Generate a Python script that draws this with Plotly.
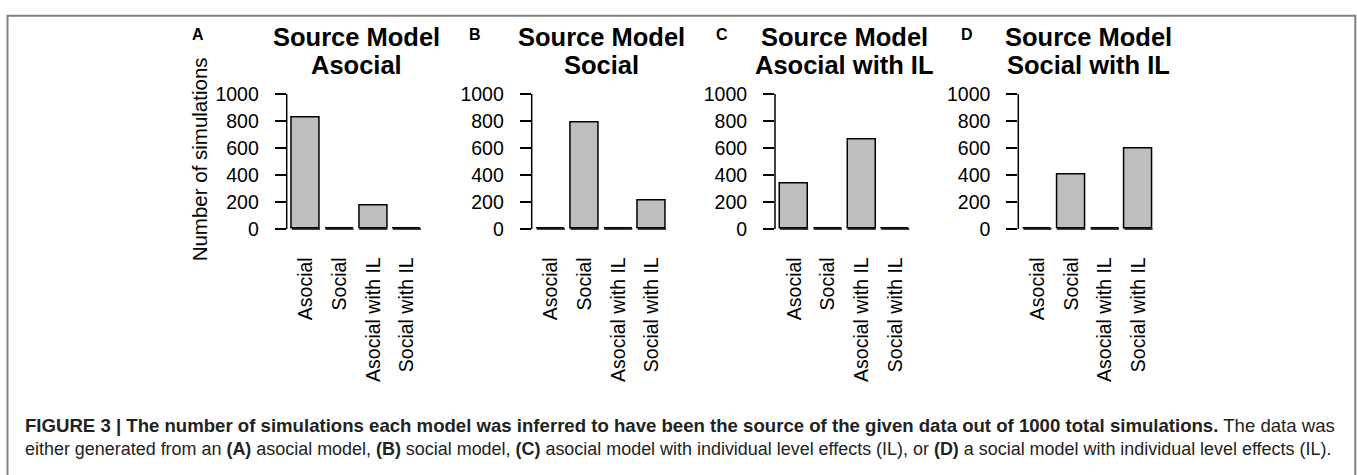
import plotly.graph_objects as go

# ---- data -------------------------------------------------------------
categories = ["Asocial", "Social", "Asocial with IL", "Social with IL"]
panel_letters = ["A", "B", "C", "D"]
panel_subtitles = ["Asocial", "Social", "Asocial with IL", "Social with IL"]
counts_a = [828, 0, 172, 0]
counts_b = [0, 788, 0, 212]
counts_c = [335, 0, 665, 0]
counts_d = [0, 402, 0, 598]
y_ticks = [0, 200, 400, 600, 800, 1000]

# ---- geometry ---------------------------------------------------------
W, H = 1357, 475
FONT = "Liberation Sans, Arial, Helvetica, sans-serif"
CAP_FONT = "Liberation Sans Narrow, Arial Narrow, Liberation Sans, Arial, sans-serif"
BAR_W = 1 / 1.2
BAR_FILL = "#bebebe"
LW = 1.5


def px_x(v):
    return v / W


def px_y(v):
    return 1 - v / H


panel_left = [286.7, 531.7, 775.0, 1018.3]
panel_width = 139.5
y_dom = [px_y(233.8), px_y(84.5)]

all_counts = [counts_a, counts_b, counts_c, counts_d]
xpos = list(range(len(categories)))

fig = go.Figure()
shapes = []
annotations = []

for k, counts in enumerate(all_counts):
    sfx = "" if k == 0 else str(k + 1)
    xa, ya = "x" + sfx, "y" + sfx

    fig.add_trace(go.Bar(
        x=xpos, y=counts, width=BAR_W,
        marker=dict(color=BAR_FILL, line=dict(color="black", width=LW)),
        xaxis=xa, yaxis=ya, showlegend=False, hoverinfo="skip",
    ))
    # bottom edge of every bar (zero-height bars appear as a flat line)
    ex, ey = [], []
    for i in xpos:
        ex += [i - BAR_W / 2, i + BAR_W / 2, None]
        ey += [0, 0, None]
    fig.add_trace(go.Scatter(
        x=ex, y=ey, mode="lines", line=dict(color="black", width=LW),
        xaxis=xa, yaxis=ya, showlegend=False, hoverinfo="skip",
    ))

    x0 = panel_left[k]
    fig.layout["xaxis" + sfx] = dict(
        domain=[px_x(x0), px_x(x0 + panel_width)], anchor=ya,
        range=[-0.57, 3.57], tickmode="array", tickvals=xpos, ticktext=categories,
        tickangle=-90, ticks="", showline=False, showgrid=False, zeroline=False,
        tickfont=dict(family=FONT, size=19.5, color="black"),
        ticklabelstandoff=18, fixedrange=True,
    )
    fig.layout["yaxis" + sfx] = dict(
        domain=y_dom, anchor=xa, range=[-40, 1040],
        tickmode="array", tickvals=y_ticks,
        ticks="outside", ticklen=11, tickwidth=LW, tickcolor="black",
        showline=False, showgrid=False, zeroline=False,
        tickfont=dict(family=FONT, size=19.5, color="black"),
        ticklabelstandoff=12, fixedrange=True,
    )
    # axis line spanning the tick range only
    shapes.append(dict(type="line", xref=xa + " domain", yref=ya,
                       x0=0, x1=0, y0=y_ticks[0], y1=y_ticks[-1],
                       line=dict(color="black", width=LW)))

    cx = px_x(x0 + panel_width / 2)
    annotations.append(dict(text="<b>Source Model</b>", xref="paper", yref="paper",
                            x=cx, y=px_y(31.5), xanchor="center", yanchor="middle",
                            showarrow=False, font=dict(family=FONT, size=25.5, color="black")))
    annotations.append(dict(text="<b>%s</b>" % panel_subtitles[k], xref="paper", yref="paper",
                            x=cx, y=px_y(60.5), xanchor="center", yanchor="middle",
                            showarrow=False, font=dict(family=FONT, size=25.5, color="black")))

letter_x = [198, 475, 721.5, 966.5]
for k, lt in enumerate(panel_letters):
    annotations.append(dict(text="<b>%s</b>" % lt, xref="paper", yref="paper",
                            x=px_x(letter_x[k]), y=px_y(29.5), xanchor="center", yanchor="middle",
                            showarrow=False, font=dict(family=FONT, size=16, color="black")))

annotations.append(dict(text="Number of simulations", textangle=-90, xref="paper", yref="paper",
                        x=px_x(199), y=px_y(157), xanchor="center", yanchor="middle",
                        showarrow=False, font=dict(family=FONT, size=20.5, color="black")))

caption_1 = ("<b>FIGURE 3 | The number of simulations each model was inferred to have been the "
             "source of the given data out of 1000 total simulations.</b> The data was")
caption_2 = ("either generated from an <b>(A)</b> asocial model, <b>(B)</b> social model, "
             "<b>(C)</b> asocial model with individual level effects (IL), or <b>(D)</b> a social "
             "model with individual level effects (IL).")
for txt, yy, fs in [(caption_1, 429, 18.6), (caption_2, 454, 17.95)]:
    annotations.append(dict(text=txt, xref="paper", yref="paper",
                            x=px_x(23), y=px_y(yy), xanchor="left", yanchor="middle",
                            showarrow=False, font=dict(family=CAP_FONT, size=fs, color="#222222")))

# outer frame
shapes.append(dict(type="rect", xref="paper", yref="paper",
                   x0=px_x(7.5), x1=px_x(1355.3), y0=-0.2, y1=px_y(10),
                   line=dict(color="#808080", width=2)))

fig.update_layout(
    width=W, height=H, margin=dict(l=0, r=0, t=0, b=0),
    paper_bgcolor="white", plot_bgcolor="white",
    shapes=shapes, annotations=annotations, bargap=0,
)

fig.write_html("out.html", config={"displayModeBar": False})
